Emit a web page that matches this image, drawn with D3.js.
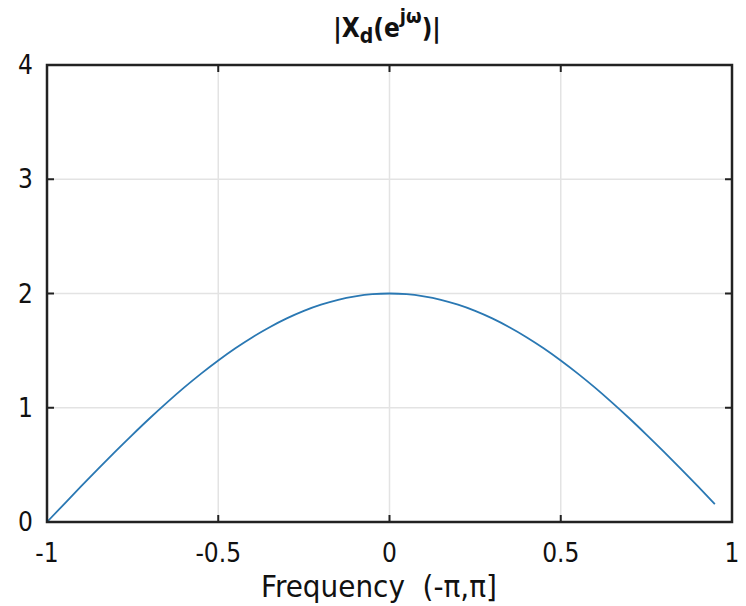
<!DOCTYPE html>
<html>
<head>
<meta charset="utf-8">
<script src="https://cdn.jsdelivr.net/npm/d3@7"></script>
<style>
  body { margin: 0; background: #fff; }
  text { font-family: "DejaVu Sans Condensed", "DejaVu Sans", Verdana, sans-serif; font-stretch: condensed; fill: #111; }
</style>
</head>
<body>
<script>
// frequency samples (normalised by pi) and magnitude
var freq = [-1, -0.95, -0.9, -0.85, -0.8, -0.75, -0.7, -0.65, -0.6, -0.55, -0.5,
            -0.45, -0.4, -0.35, -0.3, -0.25, -0.2, -0.15, -0.1, -0.05, 0,
            0.05, 0.1, 0.15, 0.2, 0.25, 0.3, 0.35, 0.4, 0.45, 0.5,
            0.55, 0.6, 0.65, 0.7, 0.75, 0.8, 0.85, 0.9, 0.95];
var mag = [0, 0.157, 0.313, 0.467, 0.618, 0.765, 0.908, 1.045, 1.176, 1.299, 1.414,
           1.521, 1.618, 1.705, 1.782, 1.848, 1.902, 1.945, 1.975, 1.994, 2,
           1.994, 1.975, 1.945, 1.902, 1.848, 1.782, 1.705, 1.618, 1.521, 1.414,
           1.299, 1.176, 1.045, 0.908, 0.765, 0.618, 0.467, 0.313, 0.157];
var xTicks = [-1, -0.5, 0, 0.5, 1];
var yTicks = [0, 1, 2, 3, 4];

var width = 746, height = 606;
var margin = {left: 47, right: 14, top: 65, bottom: 84};

var svg = d3.select("body").append("svg")
    .attr("width", width)
    .attr("height", height);

var x = d3.scaleLinear().domain([-1, 1]).range([margin.left, width - margin.right]);
var y = d3.scaleLinear().domain([0, 4]).range([height - margin.bottom, margin.top]);

//grid lines
svg.selectAll(".vgrid").data(xTicks).enter().append("line")
    .attr("x1", function(d){ return x(d); })
    .attr("x2", function(d){ return x(d); })
    .attr("y1", y(0)).attr("y2", y(4))
    .attr("stroke", "#e3e3e3").attr("stroke-width", 1.5);
svg.selectAll(".hgrid").data(yTicks).enter().append("line")
    .attr("y1", function(d){ return y(d); })
    .attr("y2", function(d){ return y(d); })
    .attr("x1", x(-1)).attr("x2", x(1))
    .attr("stroke", "#e3e3e3").attr("stroke-width", 1.5);

//the curve
var line = d3.line()
    .x(function(d, i){ return x(freq[i]); })
    .y(function(d){ return y(d); })
    .curve(d3.curveMonotoneX);
svg.append("path")
    .datum(mag)
    .attr("d", line)
    .attr("fill", "none")
    .attr("stroke", "#2a78b3")
    .attr("stroke-width", 1.8);

//inward ticks on all four sides
var tickLen = 7;
svg.selectAll(".xtickB").data(xTicks).enter().append("line")
    .attr("x1", function(d){ return x(d); }).attr("x2", function(d){ return x(d); })
    .attr("y1", y(0)).attr("y2", y(0) - tickLen)
    .attr("stroke", "#222").attr("stroke-width", 2);
svg.selectAll(".xtickT").data(xTicks).enter().append("line")
    .attr("x1", function(d){ return x(d); }).attr("x2", function(d){ return x(d); })
    .attr("y1", y(4)).attr("y2", y(4) + tickLen)
    .attr("stroke", "#222").attr("stroke-width", 2);
svg.selectAll(".ytickL").data(yTicks).enter().append("line")
    .attr("y1", function(d){ return y(d); }).attr("y2", function(d){ return y(d); })
    .attr("x1", x(-1)).attr("x2", x(-1) + tickLen)
    .attr("stroke", "#222").attr("stroke-width", 2);
svg.selectAll(".ytickR").data(yTicks).enter().append("line")
    .attr("y1", function(d){ return y(d); }).attr("y2", function(d){ return y(d); })
    .attr("x1", x(1)).attr("x2", x(1) - tickLen)
    .attr("stroke", "#222").attr("stroke-width", 2);

//axis box
svg.append("rect")
    .attr("x", x(-1)).attr("y", y(4))
    .attr("width", x(1) - x(-1)).attr("height", y(0) - y(4))
    .attr("fill", "none").attr("stroke", "#222").attr("stroke-width", 2.5);

//tick labels
svg.selectAll(".xlab").data(xTicks).enter().append("text")
    .attr("x", function(d){ return x(d); })
    .attr("y", y(0) + 40)
    .attr("text-anchor", "middle")
    .attr("font-size", 26)
    .text(function(d){ return d; });
svg.selectAll(".ylab").data(yTicks).enter().append("text")
    .attr("x", x(-1) - 14)
    .attr("y", function(d){ return y(d) + 9; })
    .attr("text-anchor", "end")
    .attr("font-size", 26)
    .text(function(d){ return d; });

//x axis label
svg.append("text")
    .attr("x", 379)
    .attr("y", 597)
    .attr("text-anchor", "middle")
    .attr("font-size", 31)
    .attr("xml:space", "preserve")
    .text("Frequency  (-\u03c0,\u03c0]");

//title |X_d(e^jw)|
var title = svg.append("text")
    .attr("x", 387)
    .attr("y", 37)
    .attr("text-anchor", "middle")
    .attr("font-size", 26)
    .attr("font-weight", "bold");
title.append("tspan").text("|X");
title.append("tspan").attr("dy", 6).attr("font-size", 21).text("d");
title.append("tspan").attr("dy", -6).text("(e");
title.append("tspan").attr("dy", -14).attr("font-size", 20).text("j\u03c9");
title.append("tspan").attr("dy", 14).text(")|");
</script>
</body>
</html>
